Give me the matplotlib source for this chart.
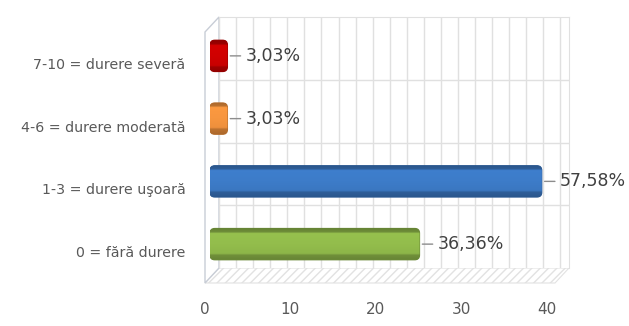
import matplotlib
matplotlib.use('Agg')
import matplotlib.pyplot as plt
import numpy as np
from matplotlib.patches import Polygon, FancyBboxPatch
from matplotlib.colors import to_rgb

# date
categories = ['0 = fără durere', '1-3 = durere uşoară', '4-6 = durere moderată', '7-10 = durere severă']
counts = [24, 38, 2, 2]
bar_colors = ['#93BD4C', '#3D7CC9', '#F7963F', '#D00000']
x_ticks = [0, 10, 20, 30, 40]

total = sum(counts)
pct_labels = [f'{c / total * 100:.2f}%'.replace('.', ',') for c in counts]

W, H = 629, 326
fig = plt.figure(figsize=(W / 100, H / 100), dpi=100)


def px_axes(l, t, r, b):
    # axe in coordonate pixel (sus-stanga)
    return fig.add_axes([l / W, 1 - b / H, (r - l) / W, (b - t) / H])


fl, ft, fr, fb = 205, 32, 555, 283   # planul din fata
ddx, ddy = 14, -15                   # adancimea 3D
xmax = 41
ylim = (-0.5, 3.5)

# podea + perete stanga
bg = fig.add_axes([0, 0, 1, 1])
bg.set_xlim(0, W)
bg.set_ylim(H, 0)
bg.axis('off')
floor = Polygon([(fl, fb), (fr, fb), (fr + ddx, fb + ddy), (fl + ddx, fb + ddy)],
                closed=True, facecolor='white', edgecolor='#E2E2E2', hatch='////', lw=0.8)
bg.add_patch(floor)
wall = Polygon([(fl, ft), (fl + ddx, ft + ddy), (fl + ddx, fb + ddy), (fl, fb)],
               closed=True, facecolor='white', edgecolor='#C8CDD6', lw=1.0)
bg.add_patch(wall)

# peretele din spate cu grila
back = px_axes(fl + ddx, ft + ddy, fr + ddx, fb + ddy)
back.set_xlim(0, xmax)
back.set_ylim(*ylim)
back.set_xticks(np.arange(0, xmax + 1, 2))
back.set_yticks([0.5, 1.5, 2.5])
back.tick_params(length=0, labelbottom=False, labelleft=False)
back.grid(True, color='#E0E0E0', lw=1.0)
for s in back.spines.values():
    s.set_color('#E0E0E0')
back.spines['left'].set_visible(False)
back.spines['bottom'].set_visible(False)

# planul barelor (putin marit, perspectiva)
bl, br = 210, 568
mid = px_axes(bl, ft + ddy / 2, br, fb + ddy / 2)
mid.patch.set_alpha(0)
mid.axis('off')

bar_h = 0.5
asp = ((br - bl) / xmax) / ((fb - ft) / (ylim[1] - ylim[0]))
shade_t = np.linspace(0, 1, 80)
shade = np.interp(shade_t, [0, 0.12, 0.16, 0.5, 0.8, 0.85, 1.0],
                  [0.68, 0.75, 1.02, 1.0, 0.96, 0.76, 0.7])

for i, (c, col) in enumerate(zip(counts, bar_colors)):
    rgb = np.array(to_rgb(col))
    patch = FancyBboxPatch((0, i - bar_h / 2), c, bar_h,
                           boxstyle='round,pad=0,rounding_size=0.55',
                           mutation_aspect=asp, facecolor=col,
                           edgecolor=tuple(rgb * 0.72), lw=0.8, zorder=2)
    mid.add_patch(patch)
    img = np.clip(shade[:, None, None] * rgb[None, None, :], 0, 1)
    im = mid.imshow(img, extent=(0, c, i - bar_h / 2, i + bar_h / 2),
                    aspect='auto', origin='upper', zorder=3)
    im.set_clip_path(patch)
    mid.annotate(pct_labels[i], xy=(c, i), xytext=(18, 0), textcoords='offset pixels',
                 ha='left', va='center', fontsize=12.5, color='#404040',
                 arrowprops=dict(arrowstyle='-', color='#8C8C8C', lw=1.0,
                                 shrinkA=1.5, shrinkB=2))

mid.set_xlim(0, xmax)
mid.set_ylim(*ylim)

# axe din fata: etichete
front = px_axes(fl, ft, fr, fb)
front.patch.set_alpha(0)
front.set_xlim(0, xmax)
front.set_ylim(*ylim)
front.set_xticks(x_ticks)
front.set_xticklabels([str(t) for t in x_ticks], fontsize=11, color='#595959')
front.set_yticks(range(len(categories)))
front.set_yticklabels(categories, fontsize=10.2, color='#595959')
front.tick_params(axis='x', length=0, pad=14)
front.tick_params(axis='y', length=0, pad=14)
for s in front.spines.values():
    s.set_visible(False)

fig.savefig('out.png', dpi=100)
